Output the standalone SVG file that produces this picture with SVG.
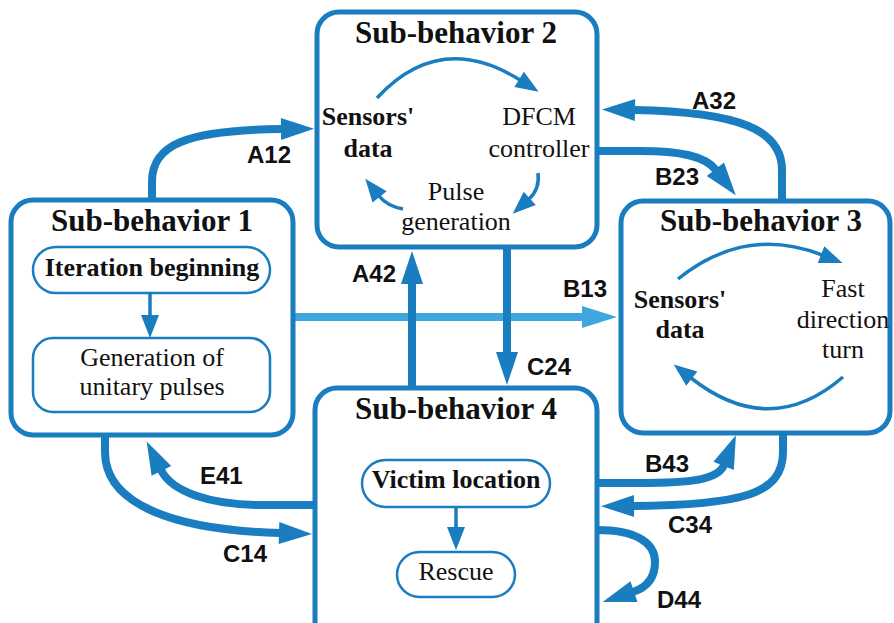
<svg xmlns="http://www.w3.org/2000/svg" width="894" height="623" viewBox="0 0 894 623">
<style>
.box{fill:#fff;stroke:#197dc0;stroke-width:5}
.pill{fill:#fff;stroke:#197dc0;stroke-width:2.5}
.title{font-family:"Liberation Serif",serif;font-weight:bold;font-size:31px;fill:#111;text-anchor:middle}
.tb{font-family:"Liberation Serif",serif;font-weight:bold;font-size:26px;fill:#111;text-anchor:middle}
.tr{font-family:"Liberation Serif",serif;font-size:26px;fill:#111;text-anchor:middle}
.lab{font-family:"Liberation Sans",Arial,sans-serif;font-weight:bold;font-size:24px;fill:#111}
.con{fill:none;stroke:#197dc0;stroke-width:8}
.conl{fill:none;stroke:#3fa7de;stroke-width:8}
.inner{fill:none;stroke:#197dc0;stroke-width:3.5}
</style>
<defs>
<marker id="big" markerUnits="userSpaceOnUse" orient="auto" overflow="visible" refX="0" refY="0" markerWidth="40" markerHeight="30"><path d="M-1,-11 L32,0 L-1,11 Z" fill="#197dc0"/></marker>
<marker id="bigl" markerUnits="userSpaceOnUse" orient="auto" overflow="visible" refX="0" refY="0" markerWidth="40" markerHeight="30"><path d="M-1,-11 L34,0 L-1,11 Z" fill="#3fa7de"/></marker>
<marker id="sm" markerUnits="userSpaceOnUse" orient="auto" overflow="visible" refX="0" refY="0" markerWidth="30" markerHeight="20"><path d="M-1,-9 L22,0 L-1,9 Z" fill="#197dc0"/></marker>
</defs>

<g id="connectors">
<path class="con" d="M152,200 L152,182 C152,145 185,130 282,129" marker-end="url(#big)"/>
<path class="con" d="M782,201 L782,170 C782,130 740,112 634,110" marker-end="url(#big)"/>
<path class="con" d="M597,151 L640,151 C680,151 705,156 716,170" marker-end="url(#big)"/>
<path class="conl" d="M293,317 L583,317" marker-end="url(#bigl)"/>
<path class="con" d="M412,388 L412,283" marker-end="url(#big)"/>
<path class="con" d="M507,247 L507,353" marker-end="url(#big)"/>
<path class="con" d="M315,505 L262,505 C210,505 172,492 161,470" marker-end="url(#big)"/>
<path class="con" d="M105,435 L105,452 C105,505 175,530 280,533" marker-end="url(#big)"/>
<path class="con" d="M597,483 L640,483 C690,483 718,480 724,465" marker-end="url(#big)"/>
<path class="con" d="M783,433 L783,452 C783,495 740,505 633,506" marker-end="url(#big)"/>
<path class="con" d="M597,530 C635,530 655,542 655,562 C655,580 645,588 633,592" marker-end="url(#big)"/>
</g>

<g id="sub1">
<rect class="box" x="11" y="200" width="282" height="235" rx="22"/>
<text class="title" x="152" y="231">Sub-behavior 1</text>
<rect class="pill" x="33" y="247" width="237" height="46" rx="23"/>
<text class="tb" x="152" y="276">Iteration beginning</text>
<path class="inner" d="M150,293 L150,316" marker-end="url(#sm)"/>
<rect class="pill" x="33" y="338" width="237" height="74" rx="20"/>
<text class="tr" x="152" y="366">Generation of</text>
<text class="tr" x="152" y="395">unitary pulses</text>
</g>

<g id="sub2">
<rect class="box" x="317" y="12" width="280" height="235" rx="22"/>
<text class="title" x="456" y="43">Sub-behavior 2</text>
<text class="tb" x="368" y="125">Sensors'</text>
<text class="tb" x="368" y="157">data</text>
<text class="tr" x="539" y="125">DFCM</text>
<text class="tr" x="539" y="157">controller</text>
<text class="tr" x="456" y="200">Pulse</text>
<text class="tr" x="456" y="230">generation</text>
<path class="inner" d="M377,98 Q440,30 520,80" marker-end="url(#sm)"/>
<path class="inner" d="M538,173 Q540,189 529,199" marker-end="url(#sm)"/>
<path class="inner" d="M403,209 Q387,206 379,196" marker-end="url(#sm)"/>
</g>

<g id="sub3">
<rect class="box" x="621" y="201" width="269" height="232" rx="22"/>
<text class="title" x="761" y="231">Sub-behavior 3</text>
<text class="tb" x="680" y="308">Sensors'</text>
<text class="tb" x="680" y="338">data</text>
<text class="tr" x="843" y="297">Fast</text>
<text class="tr" x="843" y="328">direction</text>
<text class="tr" x="843" y="358">turn</text>
<path class="inner" d="M678,279 Q745,225 822,255" marker-end="url(#sm)"/>
<path class="inner" d="M843,377 Q770,440 691,378" marker-end="url(#sm)"/>
</g>

<g id="sub4">
<rect class="box" x="315" y="388" width="282" height="260" rx="22"/>
<text class="title" x="456" y="419">Sub-behavior 4</text>
<rect class="pill" x="362" y="460" width="188" height="47" rx="23.5"/>
<text class="tb" x="456" y="488">Victim location</text>
<path class="inner" d="M456,507 L456,528" marker-end="url(#sm)"/>
<rect class="pill" x="397" y="552" width="118" height="45" rx="22.5"/>
<text class="tr" x="456" y="580">Rescue</text>
</g>

<g id="labels">
<text class="lab" x="247" y="163">A12</text>
<text class="lab" x="692" y="109">A32</text>
<text class="lab" x="655" y="185">B23</text>
<text class="lab" x="563" y="297">B13</text>
<text class="lab" x="352" y="282">A42</text>
<text class="lab" x="527" y="375">C24</text>
<text class="lab" x="200" y="484">E41</text>
<text class="lab" x="223" y="562">C14</text>
<text class="lab" x="645" y="472">B43</text>
<text class="lab" x="668" y="533">C34</text>
<text class="lab" x="657" y="608">D44</text>
</g>
</svg>
